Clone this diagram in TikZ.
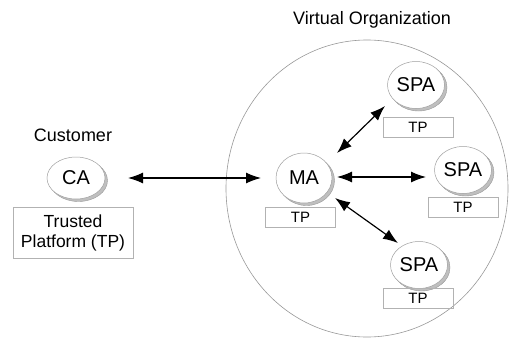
\documentclass[tikz,border=0pt]{standalone}
\usepackage{fontspec}
\setmainfont{Liberation Sans}
\usetikzlibrary{shapes.geometric,arrows.meta}
\begin{document}
\begin{tikzpicture}[x=1pt,y=-1pt,
  agent/.style={ellipse,draw=gray!75,line width=0.5pt,fill=white,inner sep=0pt,
    minimum width=57pt,minimum height=47pt,font=\fontsize{20}{24}\selectfont},
  crescent/.style={draw=gray!80,line width=0.4pt,fill=gray!50},
  tpbox/.style={rectangle,draw=gray!60,line width=0.6pt,inner sep=0pt,
    minimum width=70pt,minimum height=20pt,font=\fontsize{15}{17}\selectfont},
  lbl/.style={font=\fontsize{18}{20}\selectfont,inner sep=0pt},
  link/.style={line width=1.2pt,{Latex[length=15pt,width=11pt]}-{Latex[length=15pt,width=11pt]}}
]
\fill[white] (0,0) rectangle (512,338);
\useasboundingbox (0,0) rectangle (512,338);
% virtual organization
\node[ellipse,draw=gray!80,line width=0.6pt,minimum width=282pt,minimum height=297pt,inner sep=0pt] (vo) at (367,188.5) {};
\node[lbl] (votitle) at (372,20) {Virtual Organization};
% customer
\node[lbl] (cust) at (73,135) {Customer};
\path[crescent] (78.5,180.5) ellipse [x radius=29pt, y radius=21pt];
\node[agent,minimum width=58pt,minimum height=42pt] (ca) at (76,178) {CA};
\node[rectangle,draw=gray!60,line width=0.6pt,minimum width=120pt,minimum height=51pt,inner sep=0pt,
  align=center,font=\fontsize{17.5}{20}\selectfont] (catp) at (73,232.5) {Trusted\\Platform (TP)};
% MA
\path[crescent] (306.5,180.5) ellipse [x radius=28pt, y radius=25pt];
\node[agent,minimum width=56pt,minimum height=50pt] (ma) at (304,178) {MA};
\node[tpbox] (matp) at (300.5,217) {TP};
% SPAs
\path[crescent] (418.5,87.5) ellipse [x radius=28.5pt, y radius=23.5pt];
\node[agent] (spa1) at (416,85) {SPA};
\node[tpbox] (spa1tp) at (418,127) {TP};
\path[crescent] (465.5,172.5) ellipse [x radius=28.5pt, y radius=23.5pt];
\node[agent] (spa2) at (463,170) {SPA};
\node[tpbox] (spa2tp) at (463,207.5) {TP};
\path[crescent] (421.5,267.5) ellipse [x radius=28.5pt, y radius=23.5pt];
\node[agent] (spa3) at (419,265) {SPA};
\node[tpbox] (spa3tp) at (418,298.5) {TP};
% arrow ends
\coordinate (a1) at (128,178);
\coordinate (a2) at (261,178);
\coordinate (b1) at (337,153);
\coordinate (b2) at (385,106);
\coordinate (c1) at (337,177);
\coordinate (c2) at (426,177);
\coordinate (d1) at (335,198);
\coordinate (d2) at (398,243);
\draw[link] (a1) -- (a2);
\draw[link] (b1) -- (b2);
\draw[link] (c1) -- (c2);
\draw[link] (d1) -- (d2);
\end{tikzpicture}
\end{document}
